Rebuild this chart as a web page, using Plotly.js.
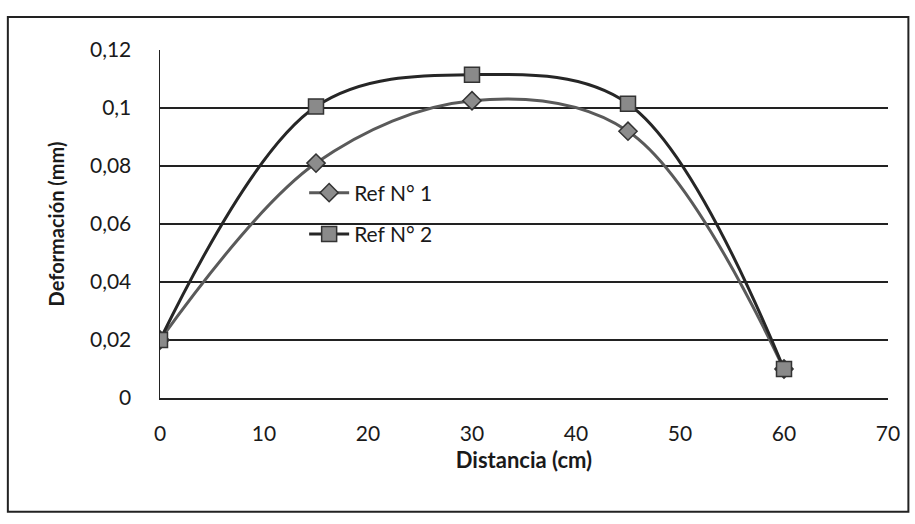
<!DOCTYPE html>
<html>
<head>
<meta charset="utf-8">
<script src="https://cdn.plot.ly/plotly-3.0.1.min.js"></script>
<style>html,body{margin:0;padding:0;background:#fff;}#chart{width:915px;height:524px;}</style>
</head>
<body>
<div id="chart"></div>
<script>
var distancia = [0, 15, 30, 45, 60];
var ref1 = [0.02, 0.081, 0.1025, 0.092, 0.01];
var ref2 = [0.02, 0.1005, 0.1115, 0.1015, 0.01];
var yTickVals = [0, 0.02, 0.04, 0.06, 0.08, 0.1, 0.12];
var yTickText = ['0', '0,02', '0,04', '0,06', '0,08', '0,1', '0,12'];
var xTickVals = [0, 10, 20, 30, 40, 50, 60, 70];
var seriesNames = ['Ref N° 1', 'Ref N° 2'];

var font = 'Lato, "Open Sans", sans-serif';

var traces = [
  {
    x: distancia, y: ref1, name: seriesNames[0], type: 'scatter', mode: 'lines+markers',
    legendgroup: 'a',
    line: {color: '#5a5a5a', width: 3, shape: 'spline', smoothing: 1},
    marker: {symbol: 'diamond', size: 14, color: '#8c8c8c', line: {color: '#333', width: 1.5}}
  },
  {
    x: distancia, y: ref2, name: seriesNames[1], type: 'scatter', mode: 'lines+markers',
    legendgroup: 'b',
    line: {color: '#262626', width: 3, shape: 'spline', smoothing: 1},
    marker: {symbol: 'square', size: 15, color: '#8a8a8a', line: {color: '#333', width: 1.5}}
  }
];

var layout = {
  width: 915, height: 524,
  paper_bgcolor: '#fff', plot_bgcolor: '#fff',
  margin: {l: 160, r: 27, t: 50, b: 126},
  font: {family: font, size: 21, color: '#1a1a1a'},
  showlegend: true,
  legend: {
    x: 0.198, y: 0.648, xanchor: 'left', yanchor: 'top',
    bgcolor: 'rgba(255,255,255,0)', font: {family: font, size: 21, color: '#1a1a1a'},
    tracegroupgap: 11, itemwidth: 40
  },
  xaxis: {
    range: [0, 70], tickvals: xTickVals, ticktext: xTickVals.map(String),
    showgrid: false, zeroline: false, showline: true, linecolor: '#222', linewidth: 1.5,
    ticks: '', ticklabelstandoff: 16,
    tickfont: {family: font, size: 21, color: '#1a1a1a'},
    title: {text: '<b>Distancia (cm)</b>', font: {family: font, size: 22, color: '#1a1a1a'}, standoff: 9}
  },
  yaxis: {
    range: [0, 0.12], tickvals: yTickVals, ticktext: yTickText,
    showgrid: true, gridcolor: '#222', gridwidth: 1.5,
    zeroline: false, showline: true, linecolor: '#222', linewidth: 1.5,
    ticks: '', ticklabelstandoff: 23,
    tickfont: {family: font, size: 21, color: '#1a1a1a'},
    title: {text: '<b>Deformación (mm)</b>', font: {family: font, size: 20, color: '#1a1a1a'}, standoff: 20}
  },
  shapes: [
    {type: 'rect', xref: 'paper', yref: 'paper',
     x0: -0.209, x1: 1.028, y0: -0.327, y1: 1.095,
     line: {color: '#222', width: 2}, fillcolor: 'rgba(0,0,0,0)'}
  ]
};

Plotly.newPlot('chart', traces, layout, {displayModeBar: false, staticPlot: true});
</script>
</body>
</html>
